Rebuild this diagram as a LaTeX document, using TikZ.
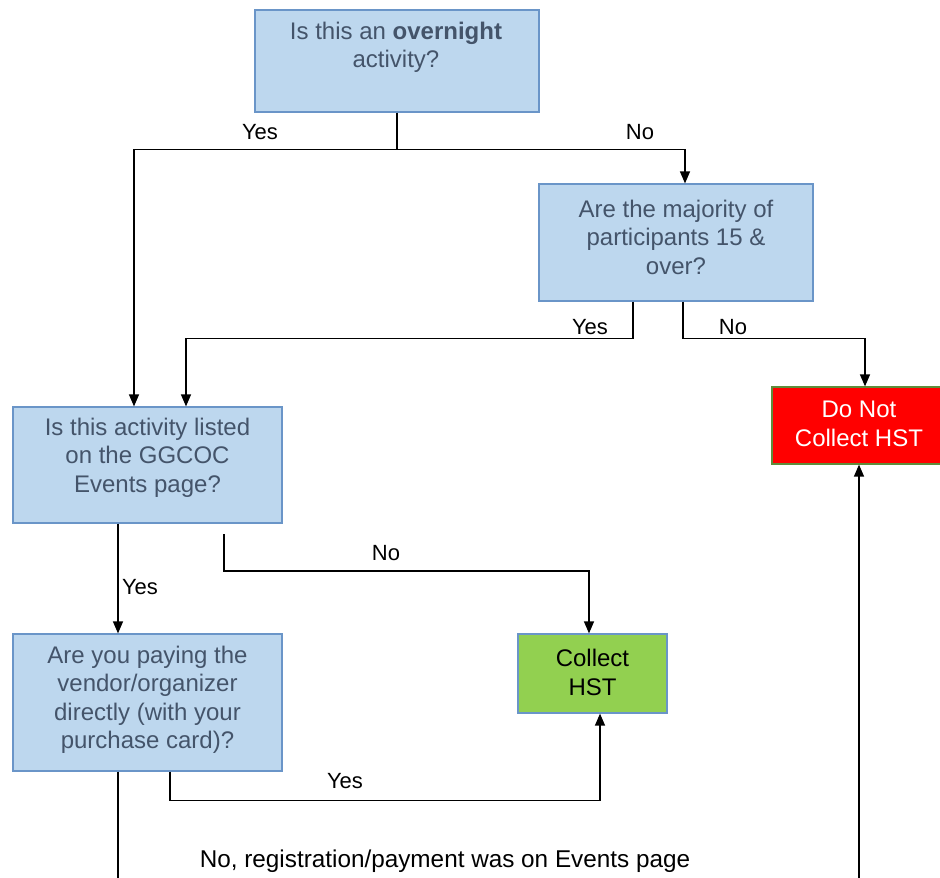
\documentclass[tikz,border=0pt]{standalone}
\usepackage{fontspec}
\setmainfont{Liberation Sans}
\usetikzlibrary{arrows.meta}
\definecolor{qfill}{HTML}{BDD7EE}
\definecolor{qdraw}{HTML}{6A95C8}
\definecolor{qtxt}{HTML}{44546A}
\definecolor{redfill}{HTML}{FF0000}
\definecolor{reddraw}{HTML}{5E8C3A}
\definecolor{grnfill}{HTML}{92D050}
\tikzset{
  qbox/.style={draw=qdraw, fill=qfill, line width=1.2pt, inner sep=0pt, rectangle},
  qtext/.style={text=qtxt, align=center, inner sep=0pt, font=\fontsize{24}{28.5}\selectfont},
  lbl/.style={text=black, inner sep=0pt, font=\fontsize{22}{26}\selectfont},
  conn/.style={line width=1.3pt, draw=black, -{Triangle[length=12pt,width=10pt]}},
  plain/.style={line width=1.3pt, draw=black},
}
\begin{document}
\begin{tikzpicture}[x=1pt,y=-1pt]
\useasboundingbox (0,0) rectangle (940,878);
\clip (0,0) rectangle (940,878);
% boxes
\node[qbox, minimum width=284pt, minimum height=102pt] (q1) at (397,61) {};
\node[qtext] (q1t) at (396,47.5) {Is this an \textbf{overnight}\\activity?};
\node[qbox, minimum width=274pt, minimum height=117pt] (q2) at (676,242.5) {};
\node[qtext] (q2t) at (676,237) {Are the majority of\\participants 15 \&\\over?};
\node[qbox, minimum width=269pt, minimum height=116pt] (q3) at (147.5,465) {};
\node[qtext] (q3t) at (147.5,457.5) {Is this activity listed\\on the GGCOC\\Events page?};
\node[qbox, minimum width=269pt, minimum height=137pt] (q4) at (147.5,702.5) {};
\node[qtext] (q4t) at (147.5,700) {Are you paying the\\vendor/organizer\\directly (with your\\purchase card)?};
\node[draw=reddraw, fill=redfill, line width=1.2pt, inner sep=0pt, minimum width=174pt, minimum height=77pt] (red) at (859,425.5) {};
\node[qtext, text=white] (redt) at (859,424) {Do Not\\Collect HST};
\node[draw=qdraw, fill=grnfill, line width=1.2pt, inner sep=0pt, minimum width=149pt, minimum height=79pt] (grn) at (592.5,673.5) {};
\node[qtext, text=black] (grnt) at (592.5,672.5) {Collect\\HST};
% connectors
\draw[conn] (q1.south) -- ++(0,37) coordinate (j1) -| ([xshift=-13.5pt]q3.north);
\draw[conn] (j1) -| ([xshift=9pt]q2.north);
\draw[conn] ([xshift=-43pt]q2.south) -- ++(0,37) -| ([xshift=38.5pt]q3.north);
\draw[conn] ([xshift=7pt]q2.south) -- ++(0,37) -| ([xshift=6pt]red.north);
\draw[conn] ([xshift=-29.5pt]q3.south) -- ([xshift=-29.5pt]q4.north);
\coordinate (s6) at (224,534);
\draw[conn] (s6) -- ++(0,37) -| ([xshift=-3.5pt]grn.north);
\draw[conn] ([xshift=22.5pt]q4.south) -- ++(0,29) -| ([xshift=7.5pt]grn.south);
\coordinate (e8) at (118,890);
\draw[plain] ([xshift=-29.5pt]q4.south) -- (e8);
\coordinate (s9) at (859,890);
\draw[conn] (s9) -- (red.south);
% labels
\node[lbl] (l1) at (260,132) {Yes};
\node[lbl] (l2) at (640,132) {No};
\node[lbl] (l3) at (590,327) {Yes};
\node[lbl] (l4) at (733,327) {No};
\node[lbl] (l5) at (140,587) {Yes};
\node[lbl] (l6) at (386,553) {No};
\node[lbl] (l7) at (345,781) {Yes};
\node[lbl, font=\fontsize{24.3}{28}\selectfont] (l8) at (445,861) {No, registration/payment was on Events page};
\end{tikzpicture}
\end{document}
